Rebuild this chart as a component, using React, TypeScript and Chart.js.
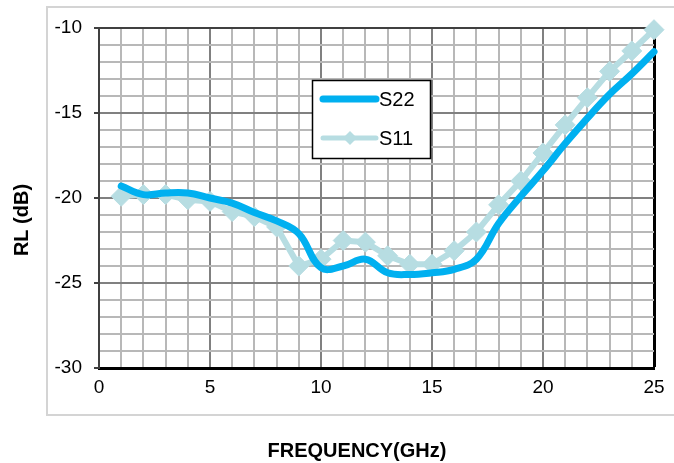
import React, { useEffect, useRef } from "react";
import { Chart, registerables } from "chart.js";

Chart.register(...registerables);

const freqs = [1, 2, 3, 4, 5, 6, 7, 8, 9, 10, 11, 12, 13, 14, 15, 16, 17, 18, 19, 20, 21, 22, 23, 24, 25];
const s22 = [-19.3, -19.8, -19.7, -19.7, -20.0, -20.3, -20.85, -21.35, -22.1, -24.1, -24.0, -23.6, -24.4, -24.5, -24.4, -24.2, -23.6, -21.5, -19.9, -18.4, -16.8, -15.3, -13.9, -12.7, -11.4];
const s11 = [-19.9, -19.8, -19.8, -20.1, -20.2, -20.8, -21.1, -21.7, -24.0, -23.6, -22.5, -22.6, -23.4, -23.9, -23.9, -23.1, -22.0, -20.4, -19.0, -17.35, -15.7, -14.1, -12.55, -11.35, -10.1];
const seriesNames = ["S22", "S11"];
const xTitle = "FREQUENCY(GHz)";
const yTitle = "RL (dB)";
const xMin = 0, xMax = 25, yMin = -30, yMax = -10;

const S22_COLOR = "#00b0f0";
const S11_COLOR = "#b7dde2";
const FONT = "'Liberation Sans', Arial, sans-serif";

const decorPlugin = {
  id: "decor",
  beforeDraw(chart: any) {
    const ctx = chart.ctx;
    ctx.save();
    ctx.strokeStyle = "#d4d4d4";
    ctx.lineWidth = 2;
    ctx.strokeRect(47, 7, 700, 408);
    ctx.restore();
  },
  afterDraw(chart: any) {
    const ctx = chart.ctx;
    ctx.save();
    // axis titles
    ctx.fillStyle = "#000";
    ctx.font = `bold 20px ${FONT}`;
    ctx.textAlign = "center";
    ctx.textBaseline = "middle";
    ctx.fillText(xTitle, 357, 451);
    ctx.save();
    ctx.translate(22, 220);
    ctx.rotate(-Math.PI / 2);
    ctx.fillText(yTitle, 0, 0);
    ctx.restore();

    // legend box
    const lx = 312, ly = 80, lw = 118, lh = 78;
    ctx.fillStyle = "#fff";
    ctx.fillRect(lx, ly, lw, lh);
    ctx.strokeStyle = "#000";
    ctx.lineWidth = 1.5;
    ctx.strokeRect(lx + 0.5, ly + 0.5, lw, lh);
    ctx.lineCap = "round";
    // S22 sample
    ctx.strokeStyle = S22_COLOR;
    ctx.lineWidth = 7;
    ctx.beginPath();
    ctx.moveTo(323, 99);
    ctx.lineTo(376, 99);
    ctx.stroke();
    // S11 sample
    ctx.strokeStyle = S11_COLOR;
    ctx.lineWidth = 5;
    ctx.beginPath();
    ctx.moveTo(323, 138);
    ctx.lineTo(376, 138);
    ctx.stroke();
    ctx.fillStyle = S11_COLOR;
    ctx.beginPath();
    ctx.moveTo(350, 131);
    ctx.lineTo(357, 138);
    ctx.lineTo(350, 145);
    ctx.lineTo(343, 138);
    ctx.closePath();
    ctx.fill();
    ctx.fillStyle = "#000";
    ctx.font = `20px ${FONT}`;
    ctx.textAlign = "left";
    ctx.textBaseline = "middle";
    ctx.fillText(seriesNames[0], 379, 100);
    ctx.fillText(seriesNames[1], 379, 139);
    ctx.restore();
  },
};

export default function App() {
  const ref = useRef<HTMLCanvasElement | null>(null);
  useEffect(() => {
    if (!ref.current) return;
    const chart = new Chart(ref.current, {
      type: "line",
      data: {
        datasets: [
          {
            label: seriesNames[0],
            data: freqs.map((f, i) => ({ x: f, y: s22[i] })),
            borderColor: S22_COLOR,
            backgroundColor: S22_COLOR,
            borderWidth: 7,
            pointRadius: 0,
            tension: 0.4,
            borderCapStyle: "round",
            borderJoinStyle: "round",
            clip: false as any,
          },
          {
            label: seriesNames[1],
            data: freqs.map((f, i) => ({ x: f, y: s11[i] })),
            borderColor: S11_COLOR,
            backgroundColor: S11_COLOR,
            borderWidth: 6,
            pointStyle: "rectRot",
            pointRadius: 10,
            pointBorderWidth: 1,
            tension: 0,
            clip: false as any,
          },
        ],
      },
      options: {
        responsive: false,
        animation: false,
        events: [],
        layout: { padding: { left: 0, top: 28, right: 20, bottom: 65 } },
        plugins: { legend: { display: false }, tooltip: { enabled: false } },
        scales: {
          x: {
            type: "linear",
            min: xMin,
            max: xMax,
            afterFit: (s: any) => { s.height = 30; },
            ticks: {
              stepSize: 1,
              autoSkip: false,
              maxRotation: 0,
              padding: 8,
              color: "#000",
              font: { family: FONT, size: 19 },
              callback: (v: any) => (Number(v) % 5 === 0 ? String(v) : ""),
            },
            grid: {
              drawTicks: false,
              color: (c: any) => {
                const v = c.tick?.value;
                if (v === xMax) return "#000";
                return v % 5 === 0 ? "#808080" : "#b8b8b8";
              },
              lineWidth: (c: any) => (c.tick?.value === xMax ? 3 : 2),
            },
            border: { color: "#000", width: 3 },
          },
          y: {
            type: "linear",
            min: yMin,
            max: yMax,
            afterFit: (s: any) => { s.width = 99; },
            ticks: {
              stepSize: 1,
              autoSkip: false,
              padding: 12,
              color: "#000",
              font: { family: FONT, size: 19 },
              callback: (v: any) => (Number(v) % 5 === 0 ? String(v) : ""),
            },
            grid: {
              tickLength: 5,
              color: (c: any) => {
                const v = c.tick?.value;
                if (v === yMax) return "#404040";
                return v % 5 === 0 ? "#808080" : "#b8b8b8";
              },
              tickColor: (c: any) => (c.tick?.value % 5 === 0 ? "#404040" : "rgba(0,0,0,0)"),
              lineWidth: 2,
            },
            border: { color: "#404040", width: 2 },
          },
        },
      },
      plugins: [decorPlugin],
    });
    return () => chart.destroy();
  }, []);
  return (
    <div style={{ position: "absolute", left: 0, top: 0, width: 674, height: 463 }}>
      <canvas ref={ref} width={674} height={463} style={{ width: 674, height: 463, display: "block" }} />
    </div>
  );
}
